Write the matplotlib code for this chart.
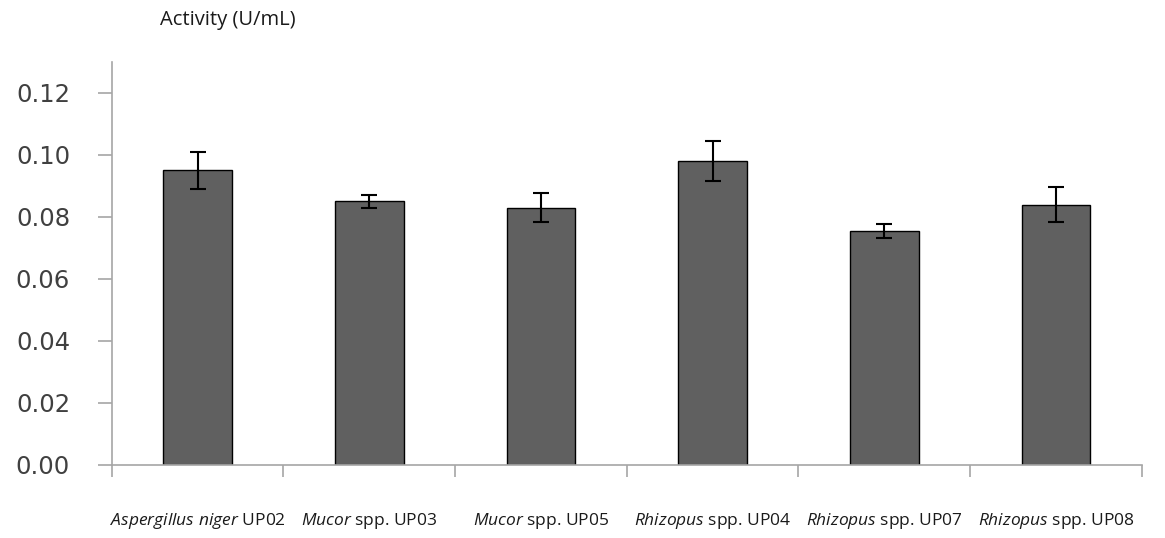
import numpy as np
import matplotlib.pyplot as plt

plt.rcParams['mathtext.fontset'] = 'custom'
plt.rcParams['mathtext.it'] = 'Open Sans:italic'
plt.rcParams['mathtext.rm'] = 'Open Sans'

# data
genus = ["Aspergillus niger", "Mucor", "Mucor", "Rhizopus", "Rhizopus", "Rhizopus"]
suffix = ["UP02", "spp. UP03", "spp. UP05", "spp. UP04", "spp. UP07", "spp. UP08"]
activity = [0.095, 0.085, 0.083, 0.098, 0.0755, 0.084]
err = [0.006, 0.002, 0.0047, 0.0065, 0.0022, 0.0057]
yticks = [0.00, 0.02, 0.04, 0.06, 0.08, 0.10, 0.12]

fig = plt.figure(figsize=(11.65, 5.38), dpi=100)
ax = fig.add_axes([0.0959, 0.1357, 0.8841, 0.7491])

x = np.arange(len(activity))
ax.bar(x, activity, width=0.4, color="#606060", edgecolor="black", linewidth=1.0, zorder=2)
ax.errorbar(x, activity, yerr=err, fmt="none", ecolor="black", elinewidth=1.5,
            capsize=5.8, capthick=1.5, zorder=3)

ax.set_xlim(-0.5, len(activity) - 0.5)
ax.set_ylim(0, 0.13)

for s in ["top", "right"]:
    ax.spines[s].set_visible(False)
for s in ["left", "bottom"]:
    ax.spines[s].set_color("#a6a6a6")
    ax.spines[s].set_linewidth(1.2)

ax.set_yticks(yticks)
ax.set_yticklabels(["%.2f" % v for v in yticks], fontsize=17.5, color="#404040",
                   family="DejaVu Sans")
ax.tick_params(axis="y", length=10, width=1.2, color="#a6a6a6", pad=20)

# category boundaries as ticks, labels at centres
ax.set_xticks(np.arange(-0.5, len(activity)), minor=True)
ax.tick_params(axis="x", which="minor", length=8.6, width=1.2, color="#a6a6a6")
labels = []
for g, s in zip(genus, suffix):
    g_m = g.replace(" ", r"\ ")
    labels.append(r"$\mathit{" + g_m + "}$ " + s)
ax.set_xticks(x)
ax.set_xticklabels(labels, fontsize=12.5, color="#1a1a1a", family="Open Sans")
ax.tick_params(axis="x", which="major", length=0, pad=33)

fig.text(0.1373, 0.962, "Activity (U/mL)", fontsize=14.5, color="#1a1a1a",
         family="Open Sans", va="center", ha="left")

fig.savefig("out.png", dpi=100)
